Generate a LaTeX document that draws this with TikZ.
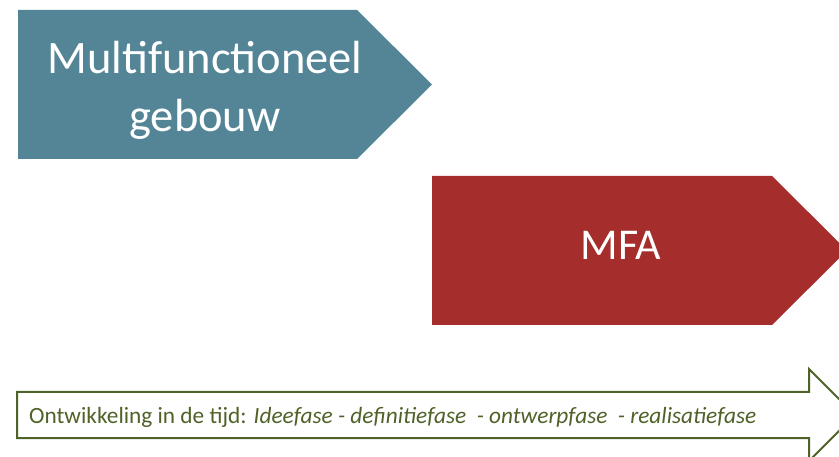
\documentclass[tikz,border=0pt]{standalone}
\usepackage{fontspec}
\setmainfont{Carlito}
\definecolor{tealblue}{HTML}{538597}
\definecolor{brick}{HTML}{A52D2C}
\definecolor{olive}{HTML}{4F6228}
\begin{document}
\begin{tikzpicture}[x=1pt,y=-1pt,
  blocktext/.style={text=white, inner sep=0pt, align=center},
  timetext/.style={text=olive, inner sep=0pt, anchor=base west, font=\fontsize{23.3}{27}\selectfont}]
\useasboundingbox (0,0) rectangle (839,457);
\clip (0,0) rectangle (839,457);
% first phase block
\fill[tealblue] (18,10) -- (357,10) -- (432,84.5) -- (357,159) -- (18,159) -- cycle;
\node[blocktext, font=\fontsize{46.5}{58}\selectfont] (mfg) at (205,90) {Multifunctioneel\\gebouw};
% second phase block
\fill[brick] (432,176) -- (772,176) -- (847,250.5) -- (772,325) -- (432,325) -- cycle;
\node[blocktext, font=\fontsize{44}{52}\selectfont, anchor=base] (mfa) at (621,260) {MFA};
% time line arrow
\draw[olive, line width=2pt, fill=white] (17,392) -- (809,392) -- (809,369) -- (855,415) -- (809,461) -- (809,438) -- (17,438) -- cycle;
\node[timetext] (tijd) at (29,423) {Ontwikkeling in de tijd: \textit{Ideefase - definitiefase\ \ - ontwerpfase\ \ - realisatiefase}};
\end{tikzpicture}
\end{document}
